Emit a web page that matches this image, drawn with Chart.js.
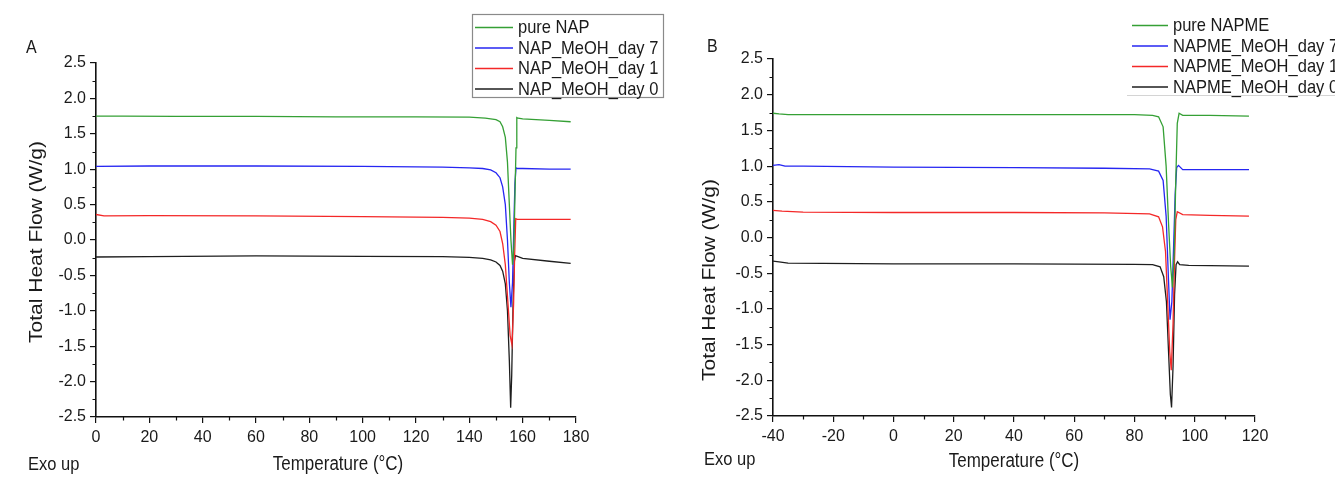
<!DOCTYPE html>
<html><head><meta charset="utf-8">
<script src="https://cdn.jsdelivr.net/npm/chart.js@4.4.0/dist/chart.umd.min.js"></script>
<style>
html,body{margin:0;padding:0;background:#fff;width:1335px;height:477px;overflow:hidden}
.wrap{position:absolute;top:0;height:477px}
#wa{left:0;width:667px}
#wb{left:667px;width:668px}
</style></head><body>
<div class="wrap" id="wa"><canvas id="ca"></canvas></div>
<div class="wrap" id="wb"><canvas id="cb"></canvas></div>
<script>
// ---------- Panel A (NAP) ----------
const labelsA = ['pure NAP', 'NAP_MeOH_day 7', 'NAP_MeOH_day 1', 'NAP_MeOH_day 0'];
const napPureT = [0, 10, 30, 60, 90, 120, 140, 146, 148, 150, 151.5, 152.5, 153.5, 154.3, 155, 155.6, 156.2, 156.7, 157.1, 157.5, 157.8, 158.3, 160, 165, 170, 178];
const napPureV = [1.75, 1.75, 1.745, 1.745, 1.74, 1.74, 1.735, 1.72, 1.71, 1.70, 1.67, 1.6, 1.45, 1.1, 0.5, 0.0, -0.35, -0.1, 0.6, 1.3, 1.73, 1.72, 1.71, 1.70, 1.69, 1.67];
const napD7T = [0, 20, 60, 100, 130, 140, 145, 148, 150, 151.5, 152.5, 153.5, 154.3, 155, 155.6, 156.2, 156.7, 157.1, 157.5, 158, 160, 170, 178];
const napD7V = [1.04, 1.045, 1.045, 1.04, 1.03, 1.02, 1.01, 0.99, 0.95, 0.88, 0.75, 0.5, 0.0, -0.6, -0.95, -0.6, 0.2, 0.8, 1.02, 1.01, 1.01, 1.0, 1.0];
const napD1T = [0, 3, 20, 60, 100, 130, 140, 145, 148, 150, 151.5, 152.5, 153.5, 154.5, 155.3, 156, 156.6, 157, 157.4, 158, 165, 178];
const napD1V = [0.36, 0.34, 0.345, 0.34, 0.33, 0.32, 0.31, 0.29, 0.26, 0.21, 0.12, -0.05, -0.35, -0.9, -1.35, -1.48, -0.9, -0.2, 0.3, 0.29, 0.29, 0.29];
const napD0T = [0, 20, 60, 100, 130, 140, 145, 148, 150, 151.5, 152.5, 153.5, 154.3, 155, 155.5, 155.9, 156.4, 156.9, 157.3, 160, 170, 178];
const napD0V = [-0.24, -0.235, -0.225, -0.23, -0.235, -0.245, -0.26, -0.28, -0.31, -0.36, -0.44, -0.62, -1.0, -1.7, -2.37, -1.9, -0.9, -0.3, -0.22, -0.26, -0.3, -0.33];

// ---------- Panel B (NAPME) ----------
const labelsB = ['pure NAPME', 'NAPME_MeOH_day 7', 'NAPME_MeOH_day 1', 'NAPME_MeOH_day 0'];
const napmePureT = [-40, -38, -35, 0, 40, 80, 86, 88, 89.5, 90.5, 91.3, 92, 92.6, 93.2, 93.7, 94.2, 94.8, 96, 105, 118];
const napmePureV = [1.74, 1.73, 1.72, 1.72, 1.72, 1.72, 1.71, 1.69, 1.55, 1.0, 0.2, -0.4, -0.7, -0.2, 0.8, 1.6, 1.74, 1.71, 1.71, 1.70];
const napmeD7T = [-40, -38, -36, -30, 0, 40, 70, 85, 88, 89.5, 90.5, 91.2, 91.8, 92.4, 93, 93.5, 94, 94.6, 96, 105, 118];
const napmeD7V = [1.01, 1.02, 1.0, 1.0, 0.985, 0.98, 0.97, 0.96, 0.93, 0.8, 0.3, -0.5, -1.15, -0.9, -0.1, 0.6, 0.98, 1.01, 0.95, 0.95, 0.95];
const napmeD1T = [-40, -37, -30, 0, 40, 70, 85, 88, 89.3, 90.3, 91, 91.7, 92.2, 92.8, 93.3, 93.7, 94.2, 96, 105, 118];
const napmeD1V = [0.38, 0.37, 0.355, 0.35, 0.35, 0.345, 0.33, 0.29, 0.15, -0.2, -0.9, -1.6, -1.86, -1.2, -0.3, 0.25, 0.36, 0.32, 0.31, 0.30];
const napmeD0T = [-40, -38, -35, 0, 40, 80, 86, 88.5, 89.7, 90.6, 91.3, 91.9, 92.3, 92.8, 93.3, 93.8, 94.3, 95, 98, 105, 118];
const napmeD0V = [-0.33, -0.34, -0.36, -0.37, -0.37, -0.375, -0.38, -0.41, -0.55, -0.9, -1.6, -2.2, -2.38, -1.8, -0.8, -0.38, -0.34, -0.38, -0.39, -0.395, -0.40];

// ---------- axes / ticks ----------
const xTicksA = [0, 180, 20];      // min, max, step
const xTicksB = [-40, 120, 20];
const yTicks = [-2.5, 2.5, 0.5];
const xTitle = 'Temperature (°C)';
const yTitle = 'Total Heat Flow (W/g)';
const exoText = 'Exo up';
const seriesColors = ['#35a035', '#2626f2', '#f42828', '#1e1e1e'];

const FONT = '"Liberation Sans", Arial, sans-serif';
const STRETCH = 1.14;

function pts(T, V) { return T.map((t, i) => ({ x: t, y: V[i] })); }

function drawText(ctx, txt, x, y, align) {
  ctx.save();
  ctx.translate(x, y);
  ctx.scale(1, STRETCH);
  ctx.textAlign = align;
  ctx.textBaseline = 'middle';
  ctx.fillText(txt, 0, 0);
  ctx.restore();
}

const decor = {
  id: 'decor',
  afterDraw(chart, args, o) {
    const ctx = chart.ctx;
    const xs = chart.scales.x, ys = chart.scales.y, ca = chart.chartArea;
    ctx.save();
    // minor ticks
    ctx.strokeStyle = '#111'; ctx.lineWidth = 1.2;
    ctx.beginPath();
    for (let v = xs.min + o.xMinor; v < xs.max; v += 2 * o.xMinor) {
      const px = Math.round(xs.getPixelForValue(v)) + 0.5;
      ctx.moveTo(px, ca.bottom); ctx.lineTo(px, ca.bottom + 3.5);
    }
    for (let v = ys.min + o.yMinor; v < ys.max; v += 2 * o.yMinor) {
      const py = Math.round(ys.getPixelForValue(v)) + 0.5;
      ctx.moveTo(ca.left, py); ctx.lineTo(ca.left - 3.5, py);
    }
    ctx.stroke();
    // texts
    ctx.fillStyle = '#1a1a1a';
    ctx.font = '16px ' + FONT;
    drawText(ctx, o.letter, o.letterX, o.letterY, 'left');
    ctx.font = '16.5px ' + FONT;
    drawText(ctx, exoText, o.exoX, o.exoY, 'left');
    ctx.font = '17px ' + FONT;
    drawText(ctx, xTitle, o.xtX, o.xtY, 'center');
    ctx.save();
    ctx.translate(o.ytX, o.ytY); ctx.rotate(-Math.PI / 2);
    ctx.scale(1.2, 1);
    ctx.font = '17.5px ' + FONT;
    ctx.textAlign = 'center'; ctx.textBaseline = 'middle';
    ctx.fillText(yTitle, 0, 0);
    ctx.restore();
    // legend
    const L = o.legend;
    if (L.box) {
      ctx.strokeStyle = '#8a8a8a'; ctx.lineWidth = 1.2;
      ctx.strokeRect(L.box[0] + 0.5, L.box[1] + 0.5, L.box[2], L.box[3]);
    }
    if (L.bottomLine) {
      ctx.strokeStyle = '#d4d4d4'; ctx.lineWidth = 1;
      ctx.beginPath(); ctx.moveTo(L.bottomLine[0], L.bottomLine[2] + 0.5); ctx.lineTo(L.bottomLine[1], L.bottomLine[2] + 0.5); ctx.stroke();
    }
    ctx.font = '16.5px ' + FONT;
    chart.data.datasets.forEach((ds, i) => {
      const y = L.y0 + i * L.dy;
      ctx.strokeStyle = ds.borderColor; ctx.lineWidth = 1.5;
      ctx.beginPath(); ctx.moveTo(L.x0, y + 0.5); ctx.lineTo(L.x1, y + 0.5); ctx.stroke();
      ctx.fillStyle = '#1a1a1a';
      drawText(ctx, ds.label, L.tx, y + 1, 'left');
    });
    ctx.restore();
  }
};

function makeChart(id, labels, series, xt, area, deco) {
  const H = 477;
  const datasets = series.map((s, i) => ({
    label: labels[i], data: pts(s[0], s[1]), borderColor: seriesColors[i],
    borderWidth: 1.3, pointRadius: 0, tension: 0, fill: false
  }));
  const tickFont = { family: FONT, size: 16 };
  return new Chart(document.getElementById(id), {
    type: 'line',
    data: { datasets },
    options: {
      responsive: true, maintainAspectRatio: false, animation: false, devicePixelRatio: 1,
      layout: { padding: { left: 0, top: area.top, right: area.right, bottom: 0 } },
      plugins: { legend: { display: false }, tooltip: { enabled: false }, decor: deco },
      scales: {
        x: {
          type: 'linear', min: xt[0], max: xt[1],
          ticks: { stepSize: xt[2], font: tickFont, color: '#1a1a1a', padding: 5, maxRotation: 0, autoSkip: false },
          grid: { drawOnChartArea: false, drawTicks: true, tickLength: 6, color: '#111', lineWidth: 1.2 },
          border: { display: true, color: '#111', width: 1.6 },
          afterFit: s => { s.height = H - area.bottom; }
        },
        y: {
          type: 'linear', min: yTicks[0], max: yTicks[1],
          ticks: { stepSize: yTicks[2], font: tickFont, color: '#1a1a1a', padding: 4, callback: v => Number(v).toFixed(1) },
          grid: { drawOnChartArea: false, drawTicks: true, tickLength: 6, color: '#111', lineWidth: 1.2 },
          border: { display: true, color: '#111', width: 1.6 },
          afterFit: s => { s.width = area.left; }
        }
      }
    },
    plugins: [decor]
  });
}

makeChart('ca', labelsA,
  [[napPureT, napPureV], [napD7T, napD7V], [napD1T, napD1V], [napD0T, napD0V]],
  xTicksA, { left: 96, top: 63, right: 667 - 576, bottom: 417 },
  { xMinor: 10, yMinor: 0.25, letter: 'A', letterX: 26, letterY: 48,
    exoX: 28, exoY: 465, xtX: 338, xtY: 465, ytX: 37, ytY: 242,
    legend: { box: [472, 14, 191, 83], x0: 475, x1: 513, tx: 518, y0: 27, dy: 20.5 } });

makeChart('cb', labelsB,
  [[napmePureT, napmePureV], [napmeD7T, napmeD7V], [napmeD1T, napmeD1V], [napmeD0T, napmeD0V]],
  xTicksB, { left: 773 - 667, top: 59, right: 668 - (1255 - 667), bottom: 416 },
  { xMinor: 10, yMinor: 0.25, letter: 'B', letterX: 40, letterY: 47,
    exoX: 37, exoY: 460, xtX: 347, xtY: 462, ytX: 43, ytY: 280,
    legend: { bottomLine: [460, 668, 95], x0: 465, x1: 501, tx: 506, y0: 25, dy: 20.5 } });
</script>
</body></html>
